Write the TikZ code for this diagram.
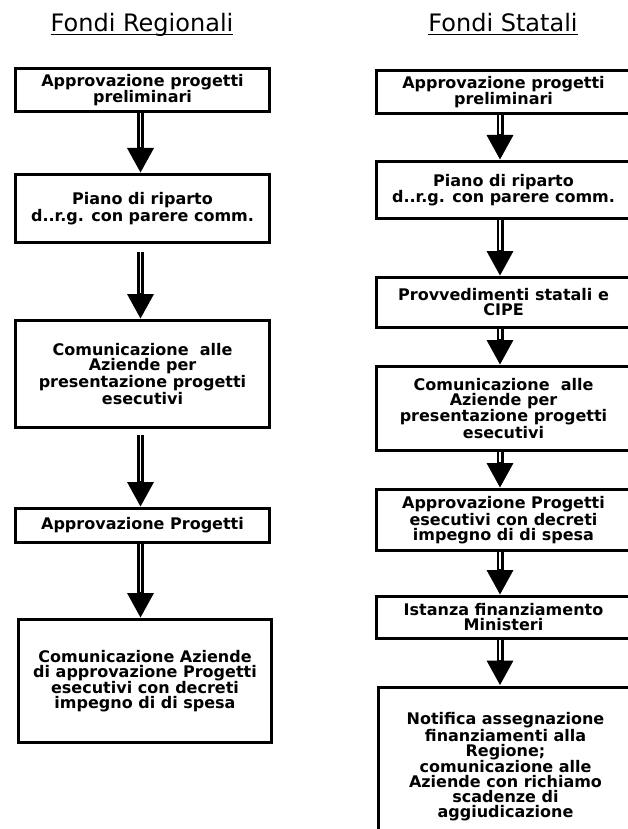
\documentclass[tikz,border=0pt]{standalone}
\usepackage{fontspec}
\setmainfont{DejaVu Sans}
\usetikzlibrary{arrows.meta}

\begin{document}
\begin{tikzpicture}[
    x=1pt, y=-1pt,
    every text node part/.style={align=center},
    phase/.style={
      % The shape:
      rectangle,
      % The size:
      minimum width=254pt,
      inner sep=0pt,
      % The border:
      draw=black,
      line width=3pt,
      % The filling:
      fill=white,
      % Font
      font=\fontsize{16}{15}\selectfont\bfseries,
    },
    heading/.style={
      font=\fontsize{24}{28}\selectfont,
      inner sep=0pt,
      anchor=base,
    },
    flow/.style={
      % thick black shaft with a white core, big filled head
      draw=black,
      line width=7pt,
      -{Triangle[width=25pt,length=25pt]},
      postaction={draw=white, line width=1.8pt, shorten >=26pt, -},
    }]

    \useasboundingbox (0,0) rectangle (628,829);
    \clip (0,0) rectangle (628,829);

    % Titles
    \node[heading] (regtitle) at (142,32) {Fondi Regionali};
    \node[heading] (stattitle) at (503,32) {Fondi Statali};
    \draw[line width=1.2pt] ([yshift=-2.5pt]regtitle.base west) -- ([yshift=-2.5pt]regtitle.base east);
    \draw[line width=1.2pt] ([yshift=-2.5pt]stattitle.base west) -- ([yshift=-2.5pt]stattitle.base east);

    % Fondi Regionali
    \node[phase, minimum height=43pt] (regprelim) at (142.5,90) {Approvazione progetti \\ preliminari};
    \node[phase, minimum height=68pt] (regriparto) at (142.5,208.5) {Piano di riparto \\ d..r.g. con parere comm.};
    \node[phase, minimum height=107pt] (regcomunic) at (142.5,374) {Comunicazione\ \ alle \\ Aziende per \\ presentazione progetti \\ esecutivi};
    \node[phase, minimum height=34pt] (regapprov) at (142.5,525.5) {Approvazione Progetti};
    \node[phase, minimum width=253pt, minimum height=123pt] (regdecreti) at (145,681) {Comunicazione Aziende \\ di approvazione Progetti \\ esecutivi con decreti \\ impegno di di spesa};

    \draw[flow] ([xshift=-2pt]regprelim.south) -- ([xshift=-2pt]regriparto.north);
    \draw[flow, shorten <=8pt] ([xshift=-2pt]regriparto.south) -- ([xshift=-2pt]regcomunic.north);
    \draw[flow, shorten <=6pt] ([xshift=-2pt]regcomunic.south) -- ([xshift=-2pt]regapprov.north);
    \draw[flow] ([xshift=-2pt]regapprov.south) -- ([xshift=-4.5pt]regdecreti.north);

    % Fondi Statali
    \node[phase, minimum height=43pt] (statprelim) at (503.5,92) {Approvazione progetti \\ preliminari};
    \node[phase, minimum height=57pt] (statriparto) at (503.5,190) {Piano di riparto \\ d..r.g. con parere comm.};
    \node[phase, minimum height=50pt] (statcipe) at (503.5,302.5) {Provvedimenti statali e \\ CIPE};
    \node[phase, minimum height=84pt] (statcomunic) at (503.5,408.5) {Comunicazione\ \ alle \\ Aziende per \\ presentazione progetti \\ esecutivi};
    \node[phase, minimum height=61pt] (statdecreti) at (503.5,520) {Approvazione Progetti \\ esecutivi con decreti \\ impegno di di spesa};
    \node[phase, minimum height=42pt] (statistanza) at (503.5,617.5) {Istanza finanziamento \\ Ministeri};
    \node[phase, minimum height=160pt] (statnotifica) at (505.5,767) {Notifica assegnazione \\ finanziamenti alla \\ Regione; \\ comunicazione alle \\ Aziende con richiamo \\ scadenze di \\ aggiudicazione};

    \draw[flow] ([xshift=-3.5pt]statprelim.south) -- ([xshift=-3.5pt]statriparto.north);
    \draw[flow] ([xshift=-3.5pt]statriparto.south) -- ([xshift=-3.5pt]statcipe.north);
    \draw[flow] ([xshift=-3.5pt]statcipe.south) -- ([xshift=-3.5pt]statcomunic.north);
    \draw[flow] ([xshift=-3.5pt]statcomunic.south) -- ([xshift=-3.5pt]statdecreti.north);
    \draw[flow] ([xshift=-3.5pt]statdecreti.south) -- ([xshift=-3.5pt]statistanza.north);
    \draw[flow] ([xshift=-3.5pt]statistanza.south) -- ([xshift=-5.5pt]statnotifica.north);
  \end{tikzpicture}
\end{document}
